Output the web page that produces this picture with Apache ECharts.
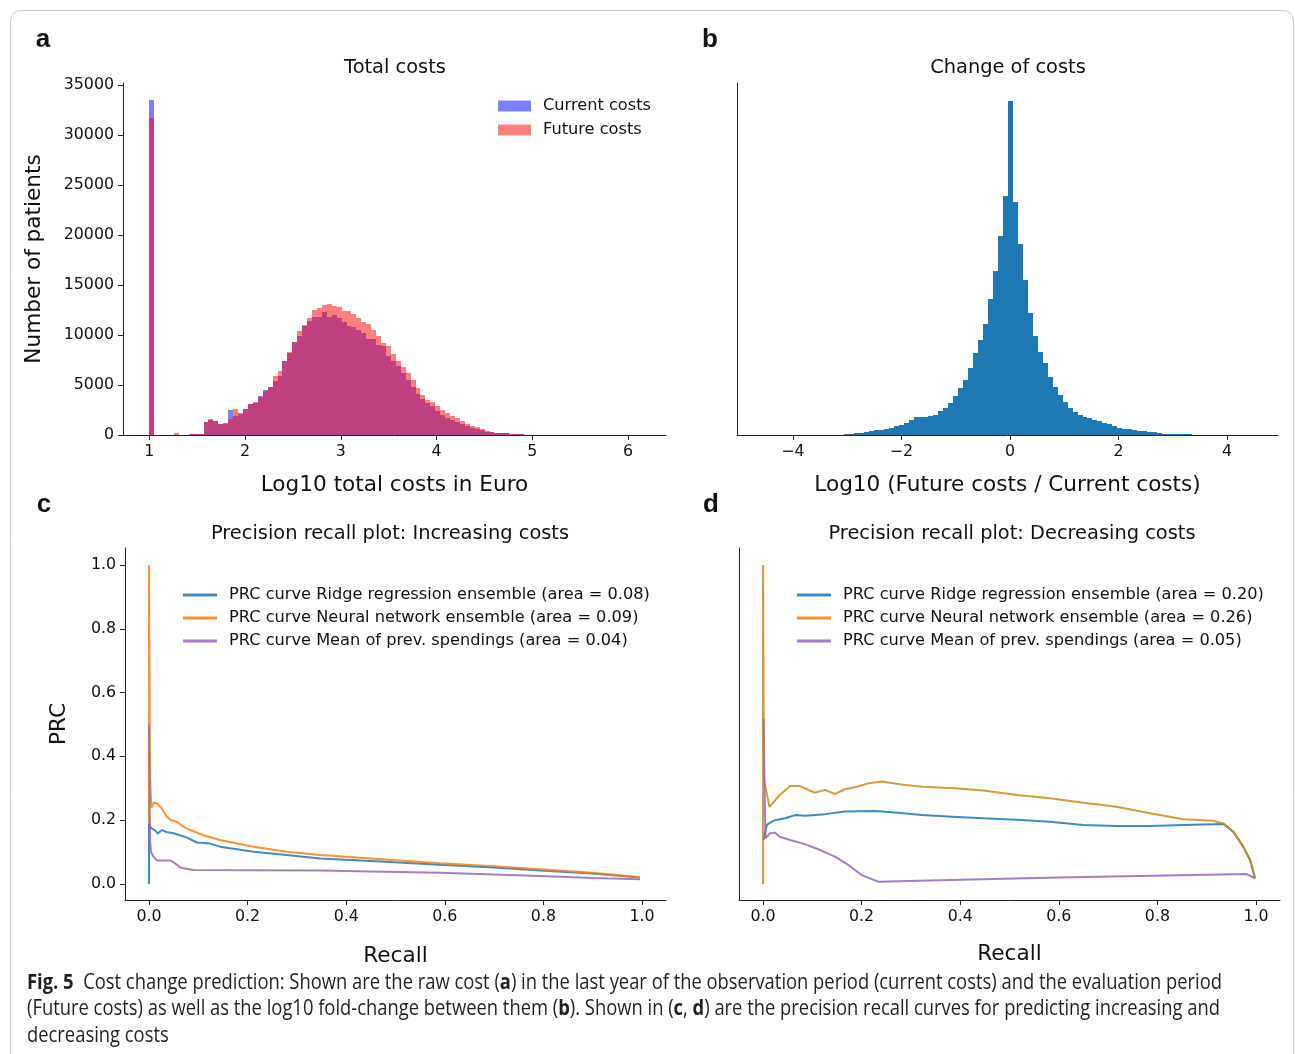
<!DOCTYPE html>
<html lang="en">
<head>
<meta charset="UTF-8">
<title>Cost change prediction</title>
<script src="https://cdn.jsdelivr.net/npm/echarts@6/dist/echarts.min.js"></script>
<style>
  html, body { margin: 0; padding: 0; background: #fff; }
  #chart { width: 1295px; height: 1054px; }
</style>
</head>
<body>
<div id="chart"></div>
<script>
// ---- panel a: log10 total costs, equal bins starting at 1.0
const costBinStart = 1.0;
const costBinWidth = 0.0515;
const currentCosts = [33500, 0, 0, 0, 0, 30, 0, 0, 130, 70, 130, 1270, 1530, 1430, 1130, 1200, 2470, 1900, 2130, 2630,
  3130, 3230, 3930, 4500, 4800, 5400, 5900, 7400, 8200, 9300, 9900, 10900, 11400, 11800, 11800, 12300, 11800, 12000, 11700, 11300,
  10900, 10800, 10500, 10200, 9600, 9600, 9000, 8900, 7900, 7400, 6900, 6200, 5500, 4850, 4150, 3600, 3200, 2900, 2400, 2000,
  1700, 1500, 1300, 1100, 900, 700, 600, 500, 330, 300, 230, 200, 170, 100, 100, 60, 30, 20, 10, 10];
const futureCosts = [31700, 0, 0, 0, 0, 230, 30, 0, 130, 130, 130, 1270, 1630, 1430, 1130, 1130, 1600, 2630, 2230, 2630,
  3130, 3330, 3830, 4400, 4800, 5900, 6400, 7400, 8300, 9300, 10400, 11000, 11700, 12500, 12700, 13000, 13100, 12900, 12800, 12400,
  12400, 12100, 11700, 11300, 11100, 10500, 9900, 9200, 8900, 8100, 7400, 6800, 6200, 5500, 4750, 4000, 3500, 3300, 2900, 2500,
  2200, 1900, 1700, 1400, 1100, 900, 800, 600, 400, 330, 250, 200, 170, 120, 100, 80, 50, 30, 20, 10];

// ---- panel b: log10 fold change
const changeBinStart = -3.06;
const changeBinWidth = 0.0916;
const changeCounts = [100, 100, 230, 230, 330, 430, 530, 530, 630, 730, 870, 1030, 1230, 1530, 1830, 1830, 1830, 1930, 2030, 2430,
  2700, 3230, 3930, 4730, 5530, 6730, 8230, 9530, 11130, 13630, 16430, 19930, 23930, 33430, 23330, 19130, 15530, 12230, 9930, 8330,
  7230, 5830, 4830, 4030, 3330, 2730, 2330, 2030, 1830, 1730, 1530, 1430, 1230, 1130, 930, 730, 630, 630, 530, 430,
  430, 330, 330, 230, 130, 130, 130, 130, 130, 130];

const costTicks = [1, 2, 3, 4, 5, 6];
const countTicks = [0, 5000, 10000, 15000, 20000, 25000, 30000, 35000];
const changeTicks = [-4, -2, 0, 2, 4];
const unitTicks = [0, 0.2, 0.4, 0.6, 0.8, 1.0];

// ---- panel c: increasing costs
const incNames = ['PRC curve Ridge regression ensemble (area = 0.08)', 'PRC curve Neural network ensemble (area = 0.09)', 'PRC curve Mean of prev. spendings (area = 0.04)'];
const incRidgeRecall = [0, 0, 0.004, 0.008, 0.012, 0.018, 0.026, 0.036, 0.05, 0.076, 0.097, 0.12, 0.144, 0.212, 0.279, 0.347, 0.45, 0.59, 0.7, 0.793, 0.9, 0.996];
const incRidgePrec = [0, 0.19, 0.175, 0.18, 0.169, 0.158, 0.169, 0.163, 0.159, 0.146, 0.13, 0.128, 0.117, 0.101, 0.091, 0.08, 0.072, 0.06, 0.052, 0.042, 0.033, 0.02];
const incNeuralRecall = [0, 0, 0.002, 0.005, 0.01, 0.016, 0.026, 0.036, 0.045, 0.056, 0.065, 0.076, 0.11, 0.144, 0.212, 0.279, 0.347, 0.45, 0.59, 0.7, 0.793, 0.9, 0.996];
const incNeuralPrec = [0.19, 1.0, 0.33, 0.24, 0.255, 0.253, 0.237, 0.211, 0.2, 0.195, 0.185, 0.174, 0.153, 0.138, 0.117, 0.101, 0.091, 0.08, 0.065, 0.056, 0.046, 0.035, 0.021];
const incMeanRecall = [0, 0.002, 0.004, 0.009, 0.016, 0.043, 0.05, 0.063, 0.09, 0.2, 0.347, 0.45, 0.59, 0.793, 0.797, 0.9, 0.996];
const incMeanPrec = [0.5, 0.14, 0.1, 0.086, 0.074, 0.074, 0.068, 0.052, 0.044, 0.043, 0.042, 0.039, 0.035, 0.025, 0.022, 0.019, 0.015];

// ---- panel d: decreasing costs
const decNames = ['PRC curve Ridge regression ensemble (area = 0.20)', 'PRC curve Neural network ensemble (area = 0.26)', 'PRC curve Mean of prev. spendings (area = 0.05)'];
const decRidgeRecall = [0.001, 0.0075, 0.012, 0.024, 0.045, 0.065, 0.085, 0.126, 0.166, 0.227, 0.268, 0.322, 0.383, 0.447, 0.515, 0.582, 0.65, 0.717, 0.785, 0.853, 0.934, 0.954, 0.974, 0.988, 0.998];
const decRidgePrec = [0.138, 0.185, 0.19, 0.2, 0.206, 0.216, 0.214, 0.219, 0.227, 0.229, 0.224, 0.216, 0.211, 0.206, 0.201, 0.195, 0.185, 0.182, 0.182, 0.185, 0.188, 0.164, 0.117, 0.075, 0.018];
const decNeuralRecall = [0, 0, 0.002, 0.013, 0.034, 0.055, 0.075, 0.105, 0.126, 0.146, 0.166, 0.186, 0.214, 0.241, 0.281, 0.322, 0.389, 0.447, 0.515, 0.582, 0.65, 0.717, 0.785, 0.853, 0.913, 0.934, 0.954, 0.974, 0.988, 0.998];
const decNeuralPrec = [0, 1.0, 0.327, 0.242, 0.279, 0.307, 0.307, 0.286, 0.295, 0.282, 0.297, 0.303, 0.316, 0.321, 0.312, 0.305, 0.3, 0.293, 0.279, 0.269, 0.255, 0.242, 0.222, 0.203, 0.198, 0.19, 0.164, 0.117, 0.075, 0.018];
const decMeanRecall = [0.001, 0.005, 0.014, 0.024, 0.034, 0.055, 0.085, 0.112, 0.146, 0.173, 0.2, 0.234, 0.379, 0.6, 0.981, 0.998];
const decMeanPrec = [0.519, 0.143, 0.159, 0.161, 0.148, 0.138, 0.125, 0.109, 0.086, 0.06, 0.028, 0.007, 0.0125, 0.02, 0.031, 0.018];

const FONT = 'DejaVu Sans';
const INK = '#111';
const BLUE = '#1f77b4', ORANGE = '#ff7f0e', PURPLE = '#9467bd';
const DARK_ORANGE = '#cf8a1c'; // neural curve in d is drawn over another trace, looks browner

// [left edge, right edge, count] per bin
function binData(start, width, counts) {
  return counts.map((c, i) => [start + i * width, start + (i + 1) * width, c]);
}
function pairs(xs, ys) {
  return xs.map((x, i) => [x, ys[i]]);
}

function histRenderer(fill) {
  return function (params, api) {
    const p0 = api.coord([api.value(0), api.value(2)]);
    const p1 = api.coord([api.value(1), 0]);
    const x0 = Math.round(p0[0]), x1 = Math.round(p1[0]);
    const y0 = Math.round(p0[1]), y1 = Math.round(p1[1]);
    return { type: 'rect', shape: { x: x0, y: y0, width: x1 - x0, height: y1 - y0 }, style: { fill: fill } };
  };
}

function axis(gridIndex, min, max, ticks, fmt, name, gap, showLabels) {
  return {
    type: 'value', gridIndex: gridIndex, min: min, max: max,
    name: name, nameLocation: 'middle', nameGap: gap,
    nameTextStyle: { fontFamily: FONT, fontSize: 21.6, color: INK },
    axisLine: { show: true, onZero: false, lineStyle: { color: '#222', width: 1 } },
    axisTick: { show: showLabels, length: 5, customValues: ticks, lineStyle: { color: '#222' } },
    axisLabel: { show: showLabels, customValues: ticks, formatter: fmt, fontFamily: FONT, fontSize: 15.8, color: INK, margin: 9 },
    splitLine: { show: false }
  };
}

const fmtInt = v => String(v);
const fmtMinus = v => (v < 0 ? '\u2212' + Math.abs(v) : String(v));
const fmt1 = v => v.toFixed(1);

function prc(name, xs, ys, color, idx) {
  return {
    name: name, type: 'line', xAxisIndex: idx, yAxisIndex: idx,
    data: pairs(xs, ys), symbol: 'none', clip: true,
    lineStyle: { color: color, width: 2, opacity: 0.85 },
    itemStyle: { color: color }
  };
}

function label(text, x, y, size, weight, family) {
  return {
    type: 'text', x: x, y: y,
    style: { text: text, fontFamily: family || FONT, fontSize: size, fontWeight: weight || 'normal', fill: INK, textAlign: 'center', textVerticalAlign: 'middle' }
  };
}

const capFont = 'Open Sans';
const capStyle = { fontFamily: capFont, fontSize: 21, fill: '#231f20', textVerticalAlign: 'middle', rich: { b: { fontFamily: capFont, fontSize: 21, fontWeight: 'bold', fill: '#231f20' } } };
function captionLine(text, y) {
  return { type: 'text', x: 27, y: y, scaleX: 0.875, style: Object.assign({ text: text }, capStyle) };
}

const legendText = { fontFamily: FONT, fontSize: 16.2, color: INK, lineHeight: 16, padding: [0, 0, 0, 7] };
function lineLegend(names, colors, left) {
  return {
    data: names.map((n, i) => ({ name: n, itemStyle: { color: colors[i], opacity: 0.85 }, lineStyle: { color: colors[i] } })),
    left: left, top: 582, orient: 'vertical', icon: 'rect',
    itemWidth: 34, itemHeight: 3, itemGap: 7, selectedMode: false, textStyle: legendText
  };
}

const option = {
  animation: false,
  backgroundColor: '#fff',
  grid: [
    { left: 123, top: 83, width: 543, height: 352 },
    { left: 737, top: 83, width: 541, height: 352 },
    { left: 125, top: 548, width: 541, height: 352 },
    { left: 739, top: 548, width: 541, height: 352 }
  ],
  xAxis: [
    axis(0, 0.725, 6.397, costTicks, fmtInt, 'Log10 total costs in Euro', 39, true),
    axis(1, -5.032, 4.94, changeTicks, fmtMinus, 'Log10 (Future costs / Current costs)', 39, true),
    axis(2, -0.0487, 1.0487, unitTicks, fmt1, 'Recall', 45, true),
    axis(3, -0.0487, 1.0487, unitTicks, fmt1, 'Recall', 43, true)
  ],
  yAxis: [
    axis(0, 0, 35200, countTicks, fmtInt, 'Number of patients', 78, true),
    axis(1, 0, 35200, countTicks, fmtInt, '', 10, false),
    axis(2, -0.0502, 1.0533, unitTicks, fmt1, 'PRC', 55, true),
    axis(3, -0.0502, 1.0533, unitTicks, fmt1, '', 10, false)
  ],
  legend: [
    {
      data: ['Current costs', 'Future costs'], left: 493, top: 93, orient: 'vertical', icon: 'rect',
      itemWidth: 33, itemHeight: 11, itemGap: 8, selectedMode: false, textStyle: legendText
    },
    lineLegend(incNames, [BLUE, ORANGE, PURPLE], 178),
    lineLegend(decNames, [BLUE, ORANGE, PURPLE], 792)
  ],
  series: [
    {
      name: 'Current costs', type: 'custom', xAxisIndex: 0, yAxisIndex: 0, clip: true,
      data: binData(costBinStart, costBinWidth, currentCosts), encode: { x: [0, 1], y: 2 },
      itemStyle: { color: 'rgba(0,0,255,0.5)' }, renderItem: histRenderer('rgba(0,0,255,0.5)')
    },
    {
      name: 'Future costs', type: 'custom', xAxisIndex: 0, yAxisIndex: 0, clip: true,
      data: binData(costBinStart, costBinWidth, futureCosts), encode: { x: [0, 1], y: 2 },
      itemStyle: { color: 'rgba(255,0,0,0.5)' }, renderItem: histRenderer('rgba(255,0,0,0.5)')
    },
    {
      name: 'Change of costs', type: 'custom', xAxisIndex: 1, yAxisIndex: 1, clip: true,
      data: binData(changeBinStart, changeBinWidth, changeCounts), encode: { x: [0, 1], y: 2 },
      itemStyle: { color: BLUE }, renderItem: histRenderer(BLUE)
    },
    prc(incNames[0], incRidgeRecall, incRidgePrec, BLUE, 2),
    prc(incNames[1], incNeuralRecall, incNeuralPrec, ORANGE, 2),
    prc(incNames[2], incMeanRecall, incMeanPrec, PURPLE, 2),
    prc(decNames[0], decRidgeRecall, decRidgePrec, BLUE, 3),
    prc(decNames[1], decNeuralRecall, decNeuralPrec, DARK_ORANGE, 3),
    prc(decNames[2], decMeanRecall, decMeanPrec, PURPLE, 3)
  ],
  graphic: [
    { type: 'rect', z: -10, shape: { x: 10.5, y: 10.5, width: 1283, height: 1060, r: 10 }, style: { fill: 'none', stroke: '#c8c8c8', lineWidth: 1 } },
    label('a', 43, 40, 26, 'bold', 'Liberation Sans'),
    label('b', 710, 40, 26, 'bold', 'Liberation Sans'),
    label('c', 44, 505, 26, 'bold', 'Liberation Sans'),
    label('d', 711, 505, 26, 'bold', 'Liberation Sans'),
    label('Total costs', 395, 68, 19.4),
    label('Change of costs', 1008, 68, 19.4),
    label('Precision recall plot: Increasing costs', 390, 534, 19.4),
    label('Precision recall plot: Decreasing costs', 1012, 534, 19.4),
    captionLine('{b|Fig. 5}  Cost change prediction: Shown are the raw cost ({b|a}) in the last year of the observation period (current costs) and the evaluation period', 983),
    captionLine('(Future costs) as well as the log10 fold-change between them ({b|b}). Shown in ({b|c}, {b|d}) are the precision recall curves for predicting increasing and', 1009),
    captionLine('decreasing costs', 1036)
  ]
};

const chart = echarts.init(document.getElementById('chart'));
chart.setOption(option);
</script>
</body>
</html>
